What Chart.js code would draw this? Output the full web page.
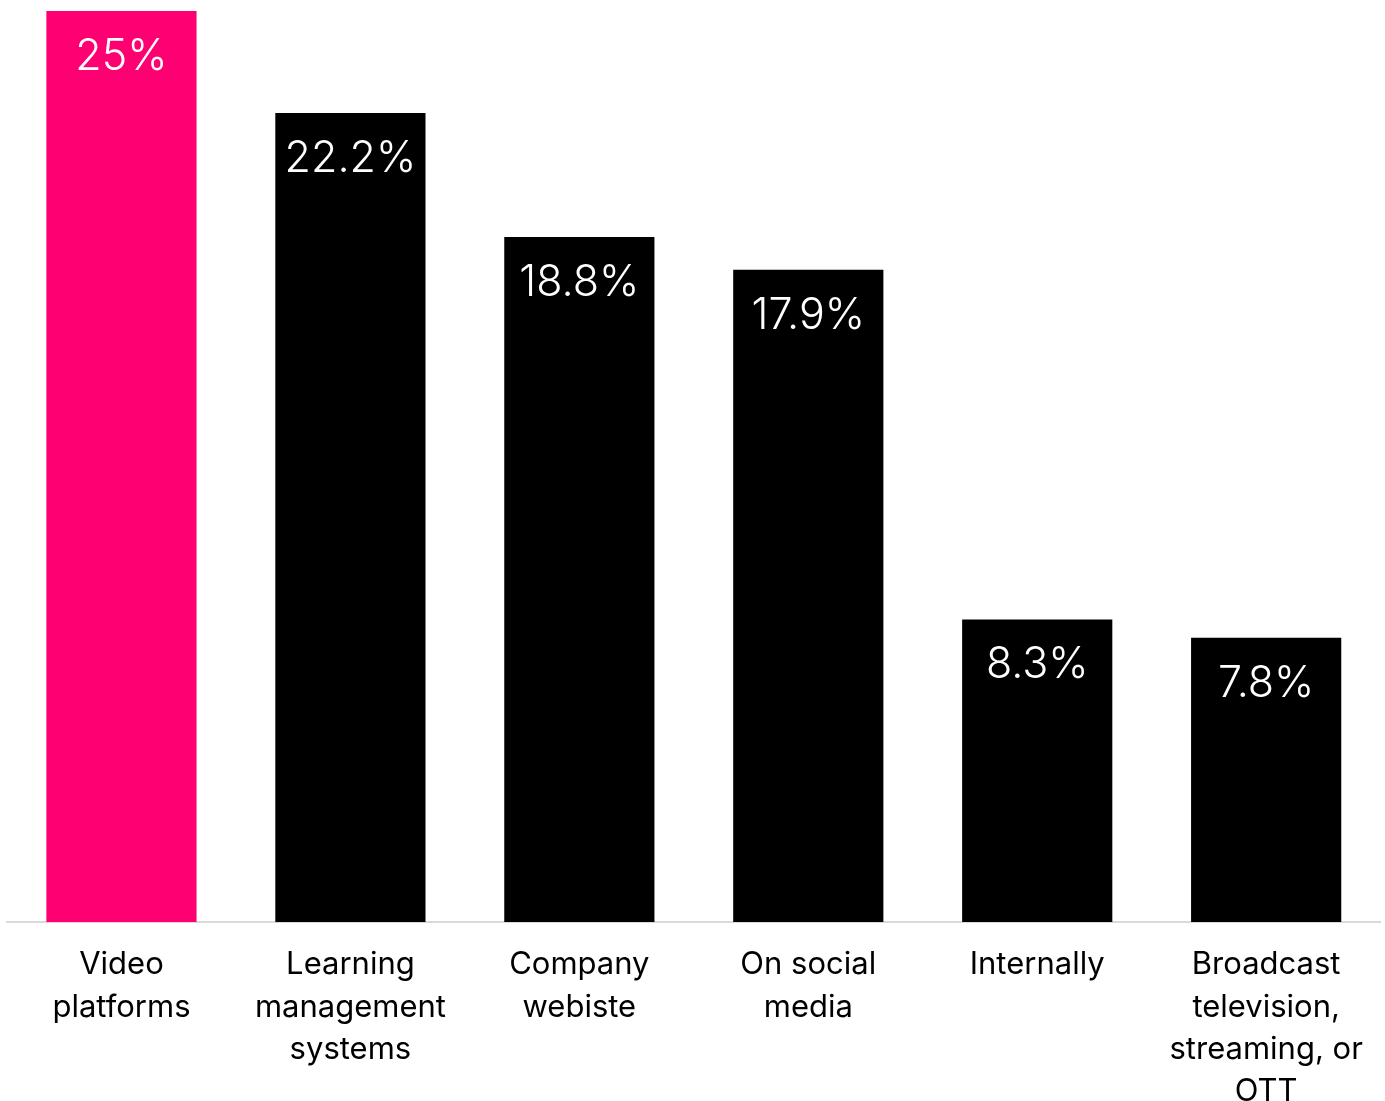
<!DOCTYPE html>
<html>
<head>
<meta charset="utf-8">
<script src="https://cdn.jsdelivr.net/npm/chart.js@4.4.1/dist/chart.umd.min.js"></script>
<style>
  html, body { margin: 0; padding: 0; background: #ffffff; }
  #wrap { width: 1385px; height: 1101px; }
</style>
</head>
<body>
<div id="wrap"><canvas id="chart" width="1385" height="1101"></canvas></div>
<script>
// Where the content is published (share of respondents, %)
const categories = [
  ['Video', 'platforms'],
  ['Learning', 'management', 'systems'],
  ['Company', 'webiste'],
  ['On social', 'media'],
  ['Internally'],
  ['Broadcast', 'television,', 'streaming, or', 'OTT']
];
const shares = [25, 22.2, 18.8, 17.9, 8.3, 7.8];
const valueLabels = ['25%', '22.2%', '18.8%', '17.9%', '8.3%', '7.8%'];
const barColors = ['#ff0073', '#000000', '#000000', '#000000', '#000000', '#000000'];

const FONT = 'Inter, "Open Sans", sans-serif';

// Writes each bar's value just inside its top edge
const insideTopLabels = {
  id: 'insideTopLabels',
  afterDatasetsDraw(chart) {
    const ctx = chart.ctx;
    const meta = chart.getDatasetMeta(0);
    ctx.save();
    ctx.fillStyle = '#ffffff';
    ctx.font = '300 43px ' + FONT;
    ctx.textAlign = 'center';
    ctx.textBaseline = 'middle';
    meta.data.forEach((bar, i) => {
      ctx.fillText(valueLabels[i], bar.x, bar.y + 46);
    });
    ctx.restore();
  }
};

new Chart(document.getElementById('chart'), {
  type: 'bar',
  data: {
    labels: categories,
    datasets: [{
      data: shares,
      backgroundColor: barColors,
      borderWidth: 0,
      barPercentage: 0.656,
      categoryPercentage: 1
    }]
  },
  options: {
    responsive: false,
    animation: false,
    layout: { padding: { top: 11, left: 7, right: 2, bottom: 0 } },
    plugins: { legend: { display: false }, tooltip: { enabled: false } },
    scales: {
      y: { display: false, min: 0, max: 25 },
      x: {
        grid: { display: false, drawTicks: false },
        border: { display: true, color: '#d9d9d9', width: 2 },
        // fixed band under the bars; the long last label runs off the bottom edge
        afterFit(scale) { scale.height = 179; },
        ticks: {
          color: '#000000',
          padding: 22,
          maxRotation: 0,
          autoSkip: false,
          font: { family: FONT, size: 31, weight: '400', lineHeight: 1.36 }
        }
      }
    }
  },
  plugins: [insideTopLabels]
});
</script>
</body>
</html>
